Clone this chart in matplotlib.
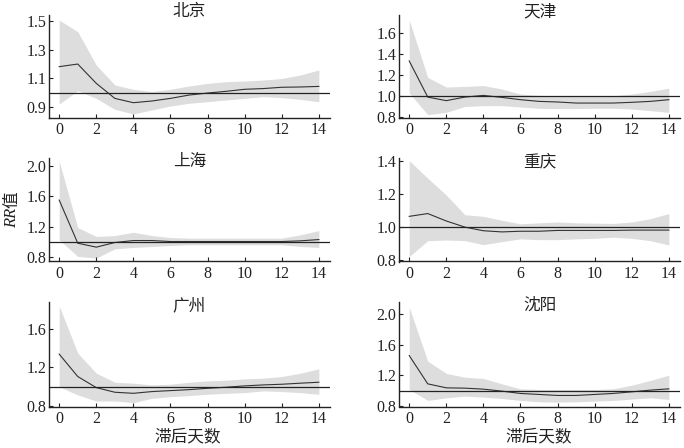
import numpy as np
import matplotlib.pyplot as plt

plt.rcParams['font.family'] = ['Liberation Serif', 'Noto Sans CJK SC']

lags = np.arange(15)

cities = ['北京', '天津', '上海', '重庆', '广州', '沈阳']

# RR 值及 95% 置信区间
rr_bj = [1.182, 1.20, 1.066, 0.962, 0.932, 0.944, 0.962, 0.985, 0.999, 1.011, 1.025, 1.03, 1.039, 1.041, 1.045]
up_bj = [1.505, 1.424, 1.193, 1.055, 1.025, 1.009, 1.025, 1.048, 1.066, 1.078, 1.082, 1.089, 1.10, 1.124, 1.159]
lo_bj = [0.923, 1.015, 0.962, 0.886, 0.854, 0.882, 0.909, 0.928, 0.939, 0.951, 0.962, 0.974, 0.967, 0.955, 0.939]

rr_tj = [1.336, 0.99, 0.956, 0.99, 1.006, 0.987, 0.965, 0.949, 0.943, 0.933, 0.933, 0.933, 0.94, 0.949, 0.965]
up_tj = [1.727, 1.178, 1.086, 1.092, 1.10, 1.067, 1.019, 1.006, 1.003, 1.003, 1.003, 1.003, 1.019, 1.044, 1.076]
lo_tj = [1.029, 0.822, 0.844, 0.90, 0.908, 0.908, 0.895, 0.883, 0.88, 0.88, 0.883, 0.883, 0.876, 0.86, 0.844]

rr_sh = [1.551, 0.983, 0.931, 0.992, 1.018, 1.018, 1.005, 1.005, 1.005, 1.005, 1.005, 1.005, 1.005, 1.014, 1.031]
up_sh = [2.062, 1.189, 1.071, 1.084, 1.127, 1.084, 1.058, 1.049, 1.049, 1.049, 1.049, 1.049, 1.049, 1.093, 1.149]
lo_sh = [1.027, 0.809, 0.787, 0.909, 0.927, 0.94, 0.953, 0.962, 0.962, 0.962, 0.962, 0.962, 0.962, 0.94, 0.927]

rr_cq = [1.063, 1.08, 1.035, 0.998, 0.976, 0.969, 0.973, 0.973, 0.978, 0.978, 0.978, 0.978, 0.98, 0.98, 0.98]
up_cq = [1.40, 1.294, 1.192, 1.073, 1.063, 1.039, 1.018, 1.024, 1.029, 1.024, 1.022, 1.02, 1.029, 1.049, 1.08]
lo_cq = [0.82, 0.916, 0.92, 0.916, 0.892, 0.91, 0.927, 0.922, 0.922, 0.927, 0.93, 0.937, 0.93, 0.916, 0.89]

rr_gz = [1.339, 1.106, 0.991, 0.943, 0.932, 0.95, 0.96, 0.97, 0.984, 0.995, 1.009, 1.019, 1.026, 1.037, 1.047]
up_gz = [1.837, 1.35, 1.141, 1.047, 1.037, 1.019, 1.026, 1.047, 1.061, 1.068, 1.082, 1.089, 1.106, 1.141, 1.186]
lo_gz = [1.0, 0.915, 0.852, 0.852, 0.835, 0.88, 0.897, 0.908, 0.922, 0.932, 0.939, 0.957, 0.95, 0.939, 0.922]

rr_sy = [1.459, 1.09, 1.038, 1.034, 1.021, 0.995, 0.965, 0.952, 0.939, 0.939, 0.952, 0.965, 0.986, 1.008, 1.025]
up_sy = [2.087, 1.385, 1.225, 1.177, 1.16, 1.09, 1.025, 1.017, 1.017, 1.017, 1.017, 1.025, 1.073, 1.134, 1.203]
lo_sy = [1.017, 0.874, 0.908, 0.93, 0.917, 0.90, 0.874, 0.856, 0.852, 0.856, 0.865, 0.874, 0.891, 0.908, 0.887]

rr_all = [rr_bj, rr_tj, rr_sh, rr_cq, rr_gz, rr_sy]
up_all = [up_bj, up_tj, up_sh, up_cq, up_gz, up_sy]
lo_all = [lo_bj, lo_tj, lo_sh, lo_cq, lo_gz, lo_sy]

yticks_all = [[0.9, 1.1, 1.3, 1.5],
              [0.8, 1.0, 1.2, 1.4, 1.6],
              [0.8, 1.2, 1.6, 2.0],
              [0.8, 1.0, 1.2, 1.4],
              [0.8, 1.2, 1.6],
              [0.8, 1.2, 1.6, 2.0]]
ylims = [(0.826, 1.54), (0.79, 1.775), (0.742, 2.105),
         (0.79, 1.416), (0.795, 1.88), (0.795, 2.156)]

W, H = 684, 448
fig = plt.figure(figsize=(W / 100, H / 100), dpi=100)

# 像素位置的坐标框
lefts = [49, 399]
width = 281
tops = [15, 158, 302]
bottoms = [118, 261.5, 406.5]
title_y = [12, 162, 306]

for i in range(6):
    r, c = i // 2, i % 2
    ax = fig.add_axes([lefts[c] / W, 1 - bottoms[r] / H,
                       width / W, (bottoms[r] - tops[r]) / H])
    ax.fill_between(lags, lo_all[i], up_all[i], color='#dddddd', lw=0)
    ax.plot(lags, rr_all[i], color='#333333', lw=0.8)
    ax.axhline(1.0, color='#222222', lw=0.9)
    ax.set_xlim(-0.55, 14.6)
    ax.set_ylim(*ylims[i])
    ax.set_xticks(range(0, 15, 2))
    ax.set_yticks(yticks_all[i])
    ax.set_yticklabels(['%.1f' % v for v in yticks_all[i]])
    for s in ['top', 'right']:
        ax.spines[s].set_visible(False)
    for s in ['left', 'bottom']:
        ax.spines[s].set_linewidth(1.0)
        ax.spines[s].set_color('#222222')
    ax.tick_params(axis='both', labelsize=11.5, length=3, width=0.8,
                   direction='in', colors='#222222')
    ax.tick_params(axis='y', pad=2)
    ax.tick_params(axis='x', pad=3)
    fig.text((lefts[c] + width / 2) / W, 1 - title_y[r] / H, cities[i],
             ha='center', va='center', fontsize=12, color='#222222')

# 纵轴标题：RR 斜体 + 值
fig.text(12 / W, 1 - 218 / H, 'RR', rotation=90, ha='center', va='center',
         fontsize=12, style='italic', color='#222222')
fig.text(12 / W, 1 - 200 / H, '值', rotation=90, ha='center', va='center',
         fontsize=12, color='#222222')
fig.text(188 / W, 1 - 437 / H, '滞后天数', ha='center', va='center',
         fontsize=12, color='#222222')
fig.text(539 / W, 1 - 437 / H, '滞后天数', ha='center', va='center',
         fontsize=12, color='#222222')

fig.savefig('out.png', dpi=100)
